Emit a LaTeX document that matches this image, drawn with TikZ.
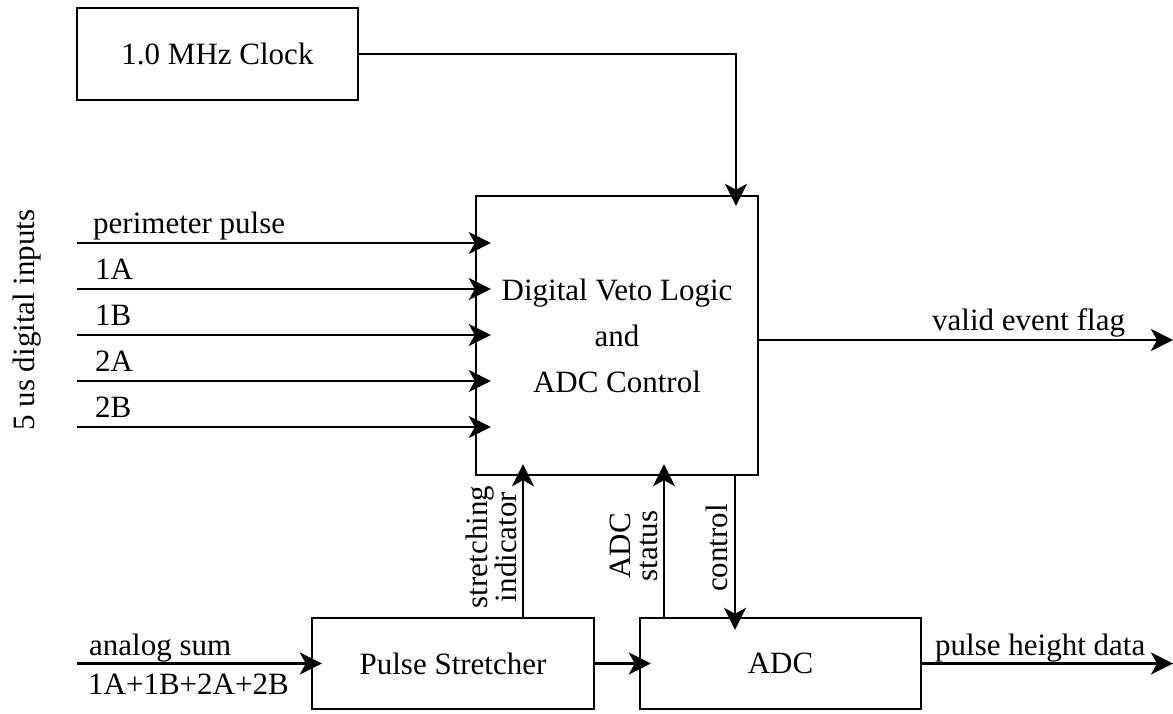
\documentclass[tikz,border=0pt]{standalone}
\usepackage{fontspec}
\setmainfont{Liberation Serif}
\usetikzlibrary{arrows.meta}
\begin{document}
\begin{tikzpicture}[x=1pt,y=-1pt,
  box/.style={draw, line width=2.4pt, inner sep=0pt, font=\fontsize{31}{46}\selectfont, align=center},
  arr/.style={line width=2.8pt, -{Stealth[length=22pt,width=22pt,inset=6pt]}},
  lbl/.style={inner sep=0pt, font=\fontsize{31}{36}\selectfont},
  vlbl/.style={inner sep=0pt, font=\fontsize{31}{27}\selectfont, align=center, rotate=90}]
\useasboundingbox (0,0) rectangle (1173,713);
% boxes
\node[box, minimum width=281pt, minimum height=92pt] (clock) at (217.5,54) {1.0 MHz Clock};
\node[box, minimum width=282pt, minimum height=279pt] (main) at (617,335.5) {Digital Veto Logic\\and\\ADC Control};
\node[box, minimum width=282pt, minimum height=91pt] (stretch) at (453,663.5) {Pulse Stretcher};
\node[box, minimum width=281pt, minimum height=91pt] (adc) at (780.5,663.5) {ADC};
% clock
\coordinate (clkx) at (736,0);
\draw[arr, shorten >=-11pt] (clock.east) -| (clkx |- main.north);
% inputs
\coordinate (in1) at (77,243);
\coordinate (in2) at (77,289);
\coordinate (in3) at (77,335);
\coordinate (in4) at (77,381);
\coordinate (in5) at (77,427);
\foreach \n in {1,...,5} {\draw[arr, shorten >=-16pt] (in\n) -- (in\n -| main.west);}
\node[lbl, anchor=base west] (l1) at (93,233) {perimeter pulse};
\node[lbl, anchor=base west] (l2) at (95,279) {1A};
\node[lbl, anchor=base west] (l3) at (95,325) {1B};
\node[lbl, anchor=base west] (l4) at (95,371) {2A};
\node[lbl, anchor=base west] (l5) at (95,417) {2B};
\node[vlbl] (vin) at (27,320) {5 us digital inputs};
% output
\coordinate (vf) at (1173,340);
\draw[arr] (main.east |- vf) -- (vf);
\node[lbl, anchor=base west] (lvf) at (932,330) {valid event flag};
% vertical connectors
\coordinate (si) at (523,0);
\coordinate (as) at (664,0);
\coordinate (ct) at (735,0);
\draw[arr, shorten >=-12pt] (si |- stretch.north) -- (si |- main.south);
\draw[arr, shorten >=-12pt] (as |- adc.north) -- (as |- main.south);
\draw[arr, shorten >=-13pt] (ct |- main.south) -- (ct |- adc.north);
\node[vlbl] (lsi) at (491,547) {stretching\\indicator};
\node[vlbl] (las) at (634,546) {ADC\\status};
\node[vlbl] (lct) at (717,548) {control};
% bottom chain
\coordinate (an) at (77,663.5);
\draw[arr, shorten >=-11pt] (an) -- (stretch.west);
\draw[arr, shorten >=-12pt] (stretch.east) -- (adc.west);
\coordinate (ph) at (1173,663.5);
\draw[arr] (adc.east) -- (ph);
\node[lbl, anchor=base west] (lan) at (89,655) {analog sum};
\node[lbl, anchor=base west] (lsum) at (88,694) {1A+1B+2A+2B};
\node[lbl, anchor=base west] (lph) at (935,655) {pulse height data};
\end{tikzpicture}
\end{document}
